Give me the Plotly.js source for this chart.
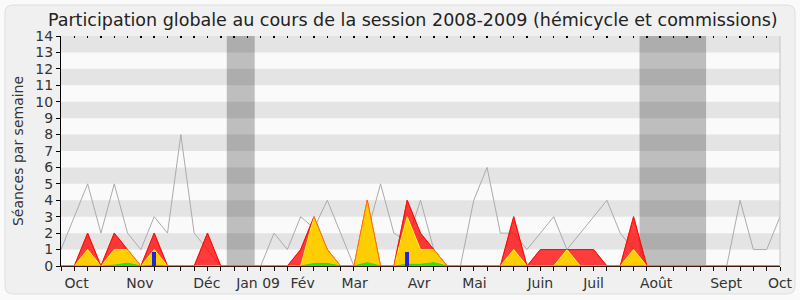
<!DOCTYPE html>
<html><head><meta charset="utf-8">
<script src="https://cdn.plot.ly/plotly-3.0.1.min.js"></script>
<style>html,body{margin:0;padding:0;background:#fafafa}</style>
</head><body>
<div id="chart" style="width:800px;height:300px"></div>
<script>
// Weekly values, session 2008-2009 (week 0 .. week 54)
const grayMedian = [1,3,5,2,5,2,1,3,2,8,2,1,0,0,0,0,2,1,3,2.3,4,2,0,2,5,2,1.5,4,1,0,0,4,6,2,2,1,2,3,1,2,3,4,2,1,0,0,0,0,0,0,0,4,1,1,3];
const presence    = [0,0,2,0,2,1,0,2,0,0,0,2,0,0,0,0,0,0,1,3,1,0,0,4,0,0,4,2,1,0,0,0,0,0,3,0,1,1,1,1,1,0,0,3,0,0,0,0,0,0,0,0,0,0,0];
const participation=[0,0,1,0,1,1,0,1,0,0,0,0,0,0,0,0,0,0,0,3,1,0,0,4,0,0,3,1,1,0,0,0,0,0,1,0,0,0,1,0,0,0,0,1,0,0,0,0,0,0,0,0,0,0,0];
const interventions=[0,0,0,0,0.05,0.17,0,0.05,0,0,0,0,0,0,0,0,0,0,0,0.15,0.15,0,0,0.2,0,0,0.1,0.1,0.2,0,0,0,0,0,0,0,0,0,0,0,0,0,0,0,0,0,0,0,0,0,0,0,0,0,0];
const questionWeeks = [7, 26];
const questionVals  = [0.87, 0.87];
const vacStart = [12.45, 43.45];
const vacEnd   = [14.55, 48.45];
const monthPos    = [1.18, 5.93, 10.95, 14.8, 18.15, 22.05, 26.9, 31.05, 36, 40, 44.7, 49.95, 54];
const monthLabels = ['Oct','Nov','Déc','Jan 09','Fév','Mar','Avr','Mai','Juin','Juil','Août','Sept','Oct'];
const yTicks = [0,1,2,3,4,5,6,7,8,9,10,11,12,13,14];

const weeks = grayMedian.map((_, i) => i);
const FONT = 'DejaVu Sans';
const xMax = weeks[weeks.length - 1];
const yMax = yTicks[yTicks.length - 1];

const traces = [
  {x: weeks, y: grayMedian, mode: 'lines', line: {color: '#ababab', width: 1}, hoverinfo: 'skip'},
  {x: weeks, y: presence, mode: 'lines', fill: 'tozeroy', fillcolor: 'rgba(255,0,0,0.76)', line: {color: '#ff0000', width: 1}, hoverinfo: 'skip'},
  {x: weeks, y: participation, mode: 'lines', fill: 'tozeroy', fillcolor: 'rgba(255,212,0,0.96)', line: {color: 'rgba(255,255,40,0.95)', width: 1}, hoverinfo: 'skip'},
  {x: weeks, y: presence, mode: 'lines', line: {color: 'rgba(255,20,0,0.6)', width: 1}, hoverinfo: 'skip'},
  {x: weeks, y: interventions, mode: 'lines', fill: 'tozeroy', fillcolor: 'rgba(20,235,0,0.9)', line: {color: '#22dd00', width: 1}, hoverinfo: 'skip'},
  {type: 'bar', x: questionWeeks, y: questionVals, width: 0.3, marker: {color: '#2323dc', line: {width: 0}}, xaxis: 'x2', yaxis: 'y2', hoverinfo: 'skip'},
  {x: [null], y: [null], mode: 'lines', xaxis: 'x3', yaxis: 'y', hoverinfo: 'skip'}
];

// pixel -> paper helpers for the frame
const L = 61, R = 780, T = 36, B = 266;
const px = v => (v - L) / (R - L);
const py = v => (B - v) / (B - T);
const fx0 = px(5), fx1 = px(795), fy0 = py(294), fy1 = py(5);
const rx = 8 / (R - L), ry = 8 / (B - T);
const framePath = `M ${fx0+rx},${fy0} L ${fx1-rx},${fy0} Q ${fx1},${fy0} ${fx1},${fy0+ry} L ${fx1},${fy1-ry} Q ${fx1},${fy1} ${fx1-rx},${fy1} L ${fx0+rx},${fy1} Q ${fx0},${fy1} ${fx0},${fy1-ry} L ${fx0},${fy0+ry} Q ${fx0},${fy0} ${fx0+rx},${fy0} Z`;

const shapes = [
  {type: 'path', xref: 'paper', yref: 'paper', path: framePath, fillcolor: '#f0f0f0', line: {color: '#dedede', width: 1}, layer: 'below'},
  {type: 'rect', xref: 'paper', yref: 'paper', x0: 0, x1: 1, y0: 0, y1: 1, fillcolor: '#fafafa', line: {width: 0}, layer: 'below'}
];
vacStart.forEach((s, i) => shapes.push({type: 'rect', xref: 'x', yref: 'y', x0: s, x1: vacEnd[i], y0: 0, y1: yMax, fillcolor: '#bebebe', line: {width: 0}, layer: 'below'}));
yTicks.forEach(k => { if (k % 2 === 1) shapes.push({type: 'rect', xref: 'x', yref: 'y', x0: 0, x1: xMax, y0: k, y1: k + 1, fillcolor: 'rgba(0,0,0,0.085)', line: {width: 0}, layer: 'below'}); });
shapes.push({type: 'line', xref: 'paper', yref: 'paper', x0: 1, x1: 1, y0: 0, y1: 1, line: {color: '#c4c4c4', width: 1}, layer: 'above'});

const layout = {
  width: 800, height: 300,
  margin: {l: L, r: 800 - R, t: T, b: 300 - B},
  paper_bgcolor: '#fafafa', plot_bgcolor: '#fafafa',
  showlegend: false,
  font: {family: FONT, size: 14, color: '#333333'},
  title: {text: 'Participation globale au cours de la session 2008-2009 (hémicycle et commissions)',
          font: {family: FONT, size: 17.5, color: '#222222'}, xref: 'container', x: 412.8 / 800, xanchor: 'center',
          yref: 'container', y: 1 - 20 / 300, yanchor: 'middle'},
  xaxis: {range: [0, xMax], tickvals: weeks, showticklabels: false, ticks: 'outside', ticklen: 4, tickcolor: '#000', tickwidth: 1,
          showline: true, linecolor: '#3c1a10', linewidth: 1, showgrid: false, zeroline: false, fixedrange: true},
  xaxis2: {overlaying: 'x', anchor: 'y', side: 'bottom', range: [0, xMax], tickvals: monthPos, ticktext: monthLabels,
           ticks: 'outside', ticklen: 4, tickcolor: 'rgba(0,0,0,0)', showline: false, showgrid: false, zeroline: false,
           tickfont: {family: FONT, size: 14, color: '#333333'}, fixedrange: true},
  xaxis3: {overlaying: 'x', anchor: 'y', side: 'top', range: [0, xMax], tickvals: weeks, showticklabels: false,
           ticks: 'inside', ticklen: 2, tickwidth: 1.5, tickcolor: '#000', showline: false, showgrid: false, zeroline: false, fixedrange: true},
  yaxis: {range: [0, yMax], tickvals: yTicks, ticks: 'outside', ticklen: 4, tickcolor: '#000', showline: true, linecolor: '#000',
          showgrid: false, zeroline: false, fixedrange: true, tickfont: {family: FONT, size: 14, color: '#333333'},
          title: {text: 'Séances par semaine', font: {family: FONT, size: 14, color: '#333333'}, standoff: 8}},
  yaxis2: {overlaying: 'y', range: [0, yMax], visible: false, fixedrange: true},
  bargap: 0,
  shapes: shapes
};

Plotly.newPlot('chart', traces, layout, {staticPlot: true, displayModeBar: false});
</script>
</body></html>
